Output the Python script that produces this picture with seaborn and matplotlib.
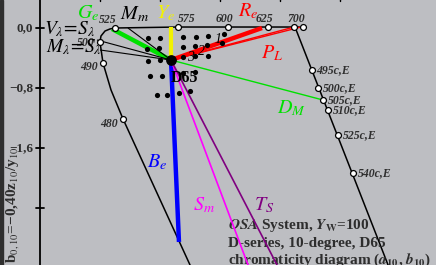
import matplotlib
matplotlib.use("Agg")
import matplotlib.pyplot as plt
import seaborn as sns
import pandas as pd

# --- estilo general ---
sns.set_style("white")
plt.rcParams["font.family"] = ["Liberation Serif", "DejaVu Serif"]
plt.rcParams["mathtext.fontset"] = "stix"

BG = "#bdbec2"
TXT = "#2e2e2e"

# ============================================================
# DATOS (coordenadas a10, b10)
# ============================================================
d65 = (0.147, -0.427)

# locus espectral (rama izquierda + recta superior)
locus_a = [0.443, -0.493, -0.653, -0.76, -0.80, -0.787, -0.733, -0.667, -0.60, 0.24, 0.907, 1.44, 1.787, 1.907]
locus_b = [-3.253, -1.213, -0.827, -0.467, -0.187, -0.107, -0.04, -0.013, 0.0, 0.013, 0.013, 0.013, 0.013, 0.013]

# recta de complementarios
comp_a = [1.80, 3.093]
comp_b = [0.013, -3.293]

# marcas espectrales
spec_names = ["480", "490", "500", "525", "575", "600", "625", "700", ""]
spec_a = [-0.493, -0.76, -0.80, -0.60, 0.24, 0.907, 1.44, 1.787, 1.907]
spec_b = [-1.213, -0.467, -0.187, 0.0, 0.013, 0.013, 0.013, 0.013, 0.013]

ce_names = ["495c,E", "500c,E", "505c,E", "510c,E", "525c,E", "540c,E"]
ce_a = [2.027, 2.107, 2.173, 2.24, 2.373, 2.573]
ce_b = [-0.56, -0.80, -0.96, -1.093, -1.427, -1.933]

# puntos de muestra (negros)
dot_a = [-0.16, 0.0, 0.307, 0.48, 0.64, 0.853,
         -0.173, -0.013, 0.307, 0.467, 0.627, 0.827,
         -0.16, 0.0, 0.307, 0.467, 0.64,
         -0.133, 0.027, 0.307, 0.467,
         -0.04, 0.093, 0.253, 0.40]
dot_b = [-0.133, -0.133, -0.12, -0.12, -0.107, -0.08,
         -0.28, -0.267, -0.253, -0.24, -0.227, -0.20,
         -0.44, -0.427, -0.387, -0.373, -0.373,
         -0.64, -0.64, -0.60, -0.587,
         -0.893, -0.893, -0.867, -0.84]

# rayos desde D65: (fin a, fin b, color, grosor)
ray_end_a = [-0.64, 0.147, 1.36, 1.787, 1.88, 2.173, 0.253, 1.224, 1.629, -0.427, -0.84, -0.80]
ray_end_b = [-0.013, 0.013, 0.0, 0.013, 0.013, -0.96, -2.853, -3.293, -3.293, 0.0, -0.16, -0.293]
ray_color = ["#00e000", "#f2f200", "#ff0000", "#ff0000", "#ff0000", "#00e000",
             "#0000ff", "#ff00ff", "#800080", "black", "black", "black"]
ray_lw = [3.2, 3.0, 3.2, 1.0, 1.0, 1.0, 3.2, 1.2, 1.2, 0.8, 0.8, 0.8]

y_ticks = [0.0, -0.8, -1.6, -2.4]
y_tick_labels = ["0,0", "\u22120,8", "\u22121,6", ""]

# ============================================================
# FIGURA
# ============================================================
fig = plt.figure(figsize=(4.36, 2.65), dpi=100)
fig.patch.set_facecolor(BG)
ax = fig.add_axes([0, 0, 1, 1])
ax.set_facecolor(BG)
ax.set_xlim(-2.1333, 3.68)
ax.set_ylim(-3.16, 0.3733)
ax.axis("off")

# franja oscura izquierda
ax.axvspan(-2.1333, -2.1333 + 3 / 75, color="#2f2f2f", zorder=0)

# eje vertical y marcas
ax.plot([-1.6, -1.6], [-3.3, 0.4], color="black", lw=1.3, zorder=2)
for yt, lab in zip(y_ticks, y_tick_labels):
    ax.plot([-1.653, -1.547], [yt, yt], color="black", lw=1.3, zorder=2)
    if lab:
        ax.text(-1.69, yt, lab, ha="right", va="center", fontsize=9.5,
                fontweight="bold", color=TXT)
for xt in [-0.8, 0.0, 0.8, 1.6, 2.4]:
    ax.plot([xt, xt], [0.36, 0.38], color="black", lw=1.0)

ax.text(-1.96, -3.14, "b$_{0,10}$=\u22120,40z$_{10}$/y$_{10}$",
        rotation=90, ha="center", va="bottom", fontsize=11, fontweight="bold", color=TXT)

# locus y recta de complementarios
locus = pd.DataFrame({"a": locus_a, "b": locus_b})
sns.lineplot(data=locus, x="a", y="b", sort=False, estimator=None,
             color="black", lw=1.1, ax=ax, zorder=3)
ax.plot(comp_a, comp_b, color="black", lw=1.1, zorder=3)

# rayos desde D65
for ea, eb, c, lw in zip(ray_end_a, ray_end_b, ray_color, ray_lw):
    ax.plot([d65[0], ea], [d65[1], eb], color=c, lw=lw, zorder=4,
            solid_capstyle="butt")

# puntos negros
dots = pd.DataFrame({"a": dot_a, "b": dot_b})
sns.scatterplot(data=dots, x="a", y="b", color="black", s=14, linewidth=0,
                ax=ax, zorder=5)
ax.scatter([d65[0]], [d65[1]], s=45, color="black", zorder=6)

# marcas abiertas
marks = pd.DataFrame({"a": spec_a + ce_a, "b": spec_b + ce_b})
sns.scatterplot(data=marks, x="a", y="b", color="white", edgecolor="black",
                s=18, linewidth=0.9, ax=ax, zorder=6)

# etiquetas de longitud de onda
num_pos = {"480": (-0.68, -1.28), "490": (-0.947, -0.52), "500": (-0.987, -0.2),
           "525": (-0.693, 0.107), "575": (0.36, 0.12), "600": (0.853, 0.12),
           "625": (1.387, 0.12), "700": (1.813, 0.12)}
for name, (x, y) in num_pos.items():
    ax.text(x, y, name, ha="center", va="center", fontsize=8.5,
            fontweight="bold", style="italic", color=TXT, zorder=7)
for name, x, y in zip(ce_names, ce_a, ce_b):
    ax.text(x + 0.06, y, name, ha="left", va="center", fontsize=8.5,
            fontweight="bold", style="italic", color=TXT, zorder=7)

# etiquetas de rayos
labs = [(r"$G_e$", -0.96, 0.2, "#00e000"), (r"$M_m$", -0.333, 0.18, "black"),
        (r"$Y_e$", 0.08, 0.2, "#f2f200"), (r"$R_e$", 1.173, 0.227, "#ff0000"),
        (r"$P_L$", 1.493, -0.333, "#ff0000"), (r"$D_M$", 1.76, -1.067, "#00e000"),
        (r"$B_e$", -0.04, -1.787, "#0000ff"), (r"$S_m$", 0.587, -2.36, "#ff00ff"),
        (r"$T_S$", 1.387, -2.36, "#800080")]
for t, x, y, c in labs:
    ax.text(x, y, t, ha="center", va="center", fontsize=14.5, color=c, zorder=7)

ax.text(-1.54, -0.02, r"$V_\lambda\!=\!S_\lambda$", ha="left", va="center",
        fontsize=14, color="black", zorder=7)
ax.text(-1.515, -0.25, r"$M_\lambda\!=\!S_\lambda$", ha="left", va="center",
        fontsize=14, color="black", zorder=7)

ax.text(0.33, -0.667, "D65", ha="center", va="center", fontsize=11.5,
        fontweight="bold", color="black", zorder=7)
for t, x, y in [("1", 0.773, -0.16), ("2", 0.56, -0.307), ("3", 0.413, -0.387)]:
    ax.text(x, y, t, ha="center", va="center", fontsize=10, style="italic",
            color="black", zorder=7)

# bloque de texto inferior
info = [r"$\mathbfit{OSA}$ System, $\mathbfit{Y}_{\mathbf{W}}$=100",
        "D-series, 10-degree, D65",
        r"chromaticity diagram ($\mathbfit{a}_{\mathbf{10}}$, $\mathbfit{b}_{\mathbf{10}}$)"]
for i, line in enumerate(info):
    ax.text(0.907, -2.64 - i * 0.227, line, ha="left", va="center", fontsize=11,
            fontweight="bold", color=TXT, zorder=3)

fig.savefig("out.png", dpi=100, facecolor=BG)
